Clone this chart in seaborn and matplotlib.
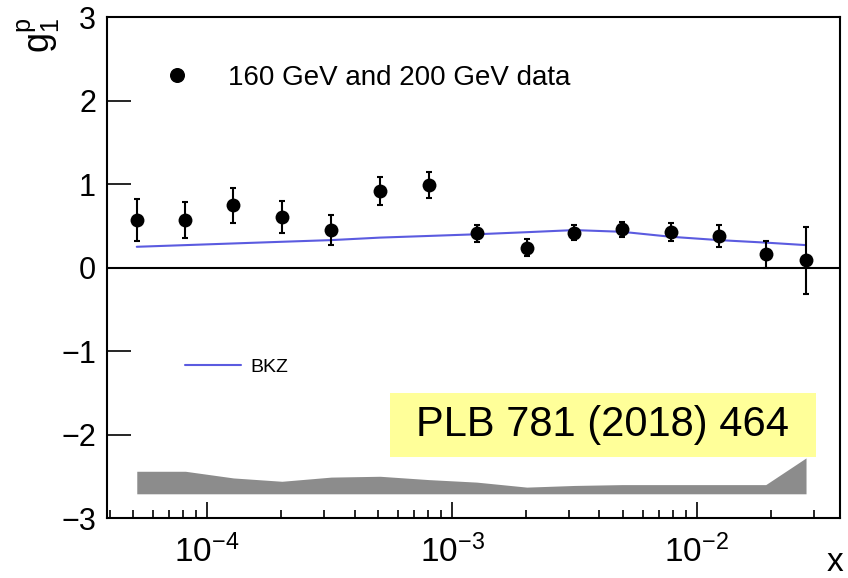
import numpy as np
import pandas as pd
import matplotlib
matplotlib.use('Agg')
import matplotlib.pyplot as plt
import seaborn as sns
from matplotlib.lines import Line2D
from matplotlib.patches import Rectangle
from matplotlib.ticker import LogLocator, NullLocator, NullFormatter, FuncFormatter, FixedLocator

# ---- data ----
x_vals = [5.16e-5, 8.15e-5, 1.28e-4, 2.02e-4, 3.21e-4, 5.08e-4, 8.04e-4, 1.26e-3,
          2.02e-3, 3.16e-3, 4.93e-3, 7.83e-3, 1.23e-2, 1.91e-2, 2.79e-2]
g1p = [0.57, 0.57, 0.75, 0.61, 0.45, 0.92, 0.99, 0.41, 0.24, 0.42, 0.46, 0.43, 0.38, 0.16, 0.09]
g1p_err = [0.25, 0.22, 0.21, 0.19, 0.18, 0.17, 0.16, 0.10, 0.10, 0.09, 0.09, 0.105, 0.13, 0.16, 0.40]
bkz = [0.25, 0.27, 0.29, 0.31, 0.33, 0.36, 0.38, 0.40, 0.425, 0.45, 0.43, 0.37, 0.33, 0.30, 0.27]
syst_top = [-2.44, -2.44, -2.52, -2.56, -2.51, -2.50, -2.54, -2.57, -2.63, -2.61, -2.60,
            -2.60, -2.60, -2.60, -2.28]
syst_bottom = -2.71
y_ticks = [-3, -2, -1, 0, 1, 2, 3]
legend_data = '160 GeV and 200 GeV data'
legend_model = 'BKZ'
ref_text = 'PLB 781 (2018) 464'

df = pd.DataFrame({'x': x_vals, 'g1p': g1p, 'err': g1p_err, 'bkz': bkz, 'syst': syst_top})

sns.set_style('ticks')
plt.rcParams['font.family'] = ['Liberation Sans', 'DejaVu Sans']
plt.rcParams['mathtext.fontset'] = 'custom'
plt.rcParams['mathtext.rm'] = 'Liberation Sans'
plt.rcParams['mathtext.it'] = 'Liberation Sans:italic'
plt.rcParams['axes.unicode_minus'] = True
for k in ['text.color', 'axes.labelcolor', 'xtick.color', 'ytick.color', 'axes.edgecolor']:
    plt.rcParams[k] = 'black'

W, H = 848, 578
fig = plt.figure(figsize=(W / 100, H / 100), dpi=100)
ax = fig.add_axes([107 / W, 60 / H, 733 / W, 500.7 / H])

line_col = '#5b5be0'

ax.fill_between(df['x'], syst_bottom, df['syst'], color='#8c8c8c', lw=0, zorder=1)
ax.axhline(0, color='black', lw=1.5, zorder=2)
sns.lineplot(data=df, x='x', y='bkz', color=line_col, lw=1.5, ax=ax, estimator=None,
             sort=False, legend=False, zorder=3)
ax.errorbar(df['x'], df['g1p'], yerr=df['err'], fmt='none', ecolor='black',
            elinewidth=1.5, capsize=2.5, capthick=1.5, zorder=4)
sns.scatterplot(data=df, x='x', y='g1p', color='black', s=100, edgecolor='black',
                linewidth=0, ax=ax, legend=False, zorder=5)

ax.set_xscale('log')
ax.set_xlim(3.9e-5, 0.0384)
ax.set_ylim(-3, 3)

ax.xaxis.set_major_locator(LogLocator(base=10, numticks=12))
ax.xaxis.set_minor_locator(LogLocator(base=10, subs=np.arange(2, 10), numticks=30))
ax.xaxis.set_major_formatter(FuncFormatter(lambda v, p: r'$\mathregular{10^{%d}}$' % round(np.log10(v))))
ax.xaxis.set_minor_formatter(NullFormatter())
ax.yaxis.set_major_locator(FixedLocator(y_ticks))
ax.yaxis.set_minor_locator(NullLocator())

ax.tick_params(axis='x', which='major', direction='in', length=11.5, width=1.2,
               top=False, labelsize=24, pad=12, colors='black')
ax.tick_params(axis='x', which='minor', direction='in', length=5.8, width=1.2, top=False)
ax.tick_params(axis='y', which='major', direction='in', length=17, width=1.2,
               right=False, labelsize=22, pad=8, colors='black')
for sp in ax.spines.values():
    sp.set_linewidth(1.5)
    sp.set_color('black')

ax.set_ylabel(r'$\mathregular{g_1^p}$', fontsize=26, loc='top')
ax.yaxis.set_label_coords(-0.061, 1.0)
ax.set_xlabel('x', fontsize=24, loc='right')
ax.xaxis.set_label_coords(1.005, -0.058)

leg1 = ax.legend(handles=[Line2D([], [], marker='o', ls='none', color='black', markersize=9.8)],
                 labels=[legend_data], loc='center left',
                 bbox_to_anchor=((149.2 - 107) / 733, 0.879), frameon=False, fontsize=20,
                 handlelength=2, handletextpad=0.83, borderpad=0, borderaxespad=0)
ax.add_artist(leg1)
ax.legend(handles=[Line2D([], [], color=line_col, lw=1.5)], labels=[legend_model],
          loc='center left', bbox_to_anchor=((185 - 107) / 733, 0.3016), frameon=False,
          fontsize=14, handlelength=2.88, handletextpad=0.46, borderpad=0, borderaxespad=0)

fig.add_artist(Rectangle((390 / W, 121 / H), 426 / W, 64 / H, transform=fig.transFigure,
                         facecolor='#ffff99', edgecolor='none', zorder=10))
fig.text(603 / W, (H - 425) / H, ref_text, ha='center', va='center', fontsize=30, zorder=11)

fig.savefig('out.png', dpi=100)
